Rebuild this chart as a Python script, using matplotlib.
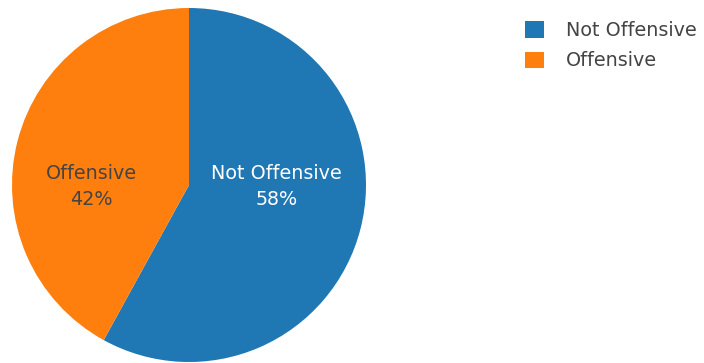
import numpy as np
import matplotlib.pyplot as plt
from matplotlib.patches import Patch

labels = ['Not Offensive', 'Offensive']
shares = [58, 42]
colors = ['#1f77b4', '#ff7f0e']
text_colors = ['white', '#444444']

W, H = 704, 363
fig = plt.figure(figsize=(W / 100, H / 100), dpi=100)
plt.rcParams['font.family'] = ['DejaVu Sans']

# pie occupies a 354px square on the left
ax = fig.add_axes([12 / W, 1 / H, 354 / W, 354 / H])
wedges, _ = ax.pie(shares, colors=colors, startangle=90, counterclock=False,
                   radius=1, wedgeprops=dict(linewidth=0))
ax.set_xlim(-1, 1)
ax.set_ylim(-1, 1)
ax.set_aspect('auto')
ax.axis('off')

# inside labels, horizontal, placed along the wedge bisector's x direction
dists = [0.51, 0.57]
for w, lab, v, tc, d in zip(wedges, labels, shares, text_colors, dists):
    mid = np.deg2rad((w.theta1 + w.theta2) / 2)
    ax.text(d * np.cos(mid), -0.01, f'{lab}\n{v}%', ha='center', va='center',
            color=tc, fontsize=13.8, linespacing=1.45)

handles = [Patch(facecolor=c, edgecolor='none') for c in colors]
fig.legend(handles, labels, loc='upper left', bbox_to_anchor=(508 / W, 1 - 4 / H),
           frameon=False, fontsize=13.8, handlelength=1.0, handleheight=0.95,
           handletextpad=1.1, labelspacing=0.58, labelcolor='#444444')

fig.savefig('out.png', dpi=100)
